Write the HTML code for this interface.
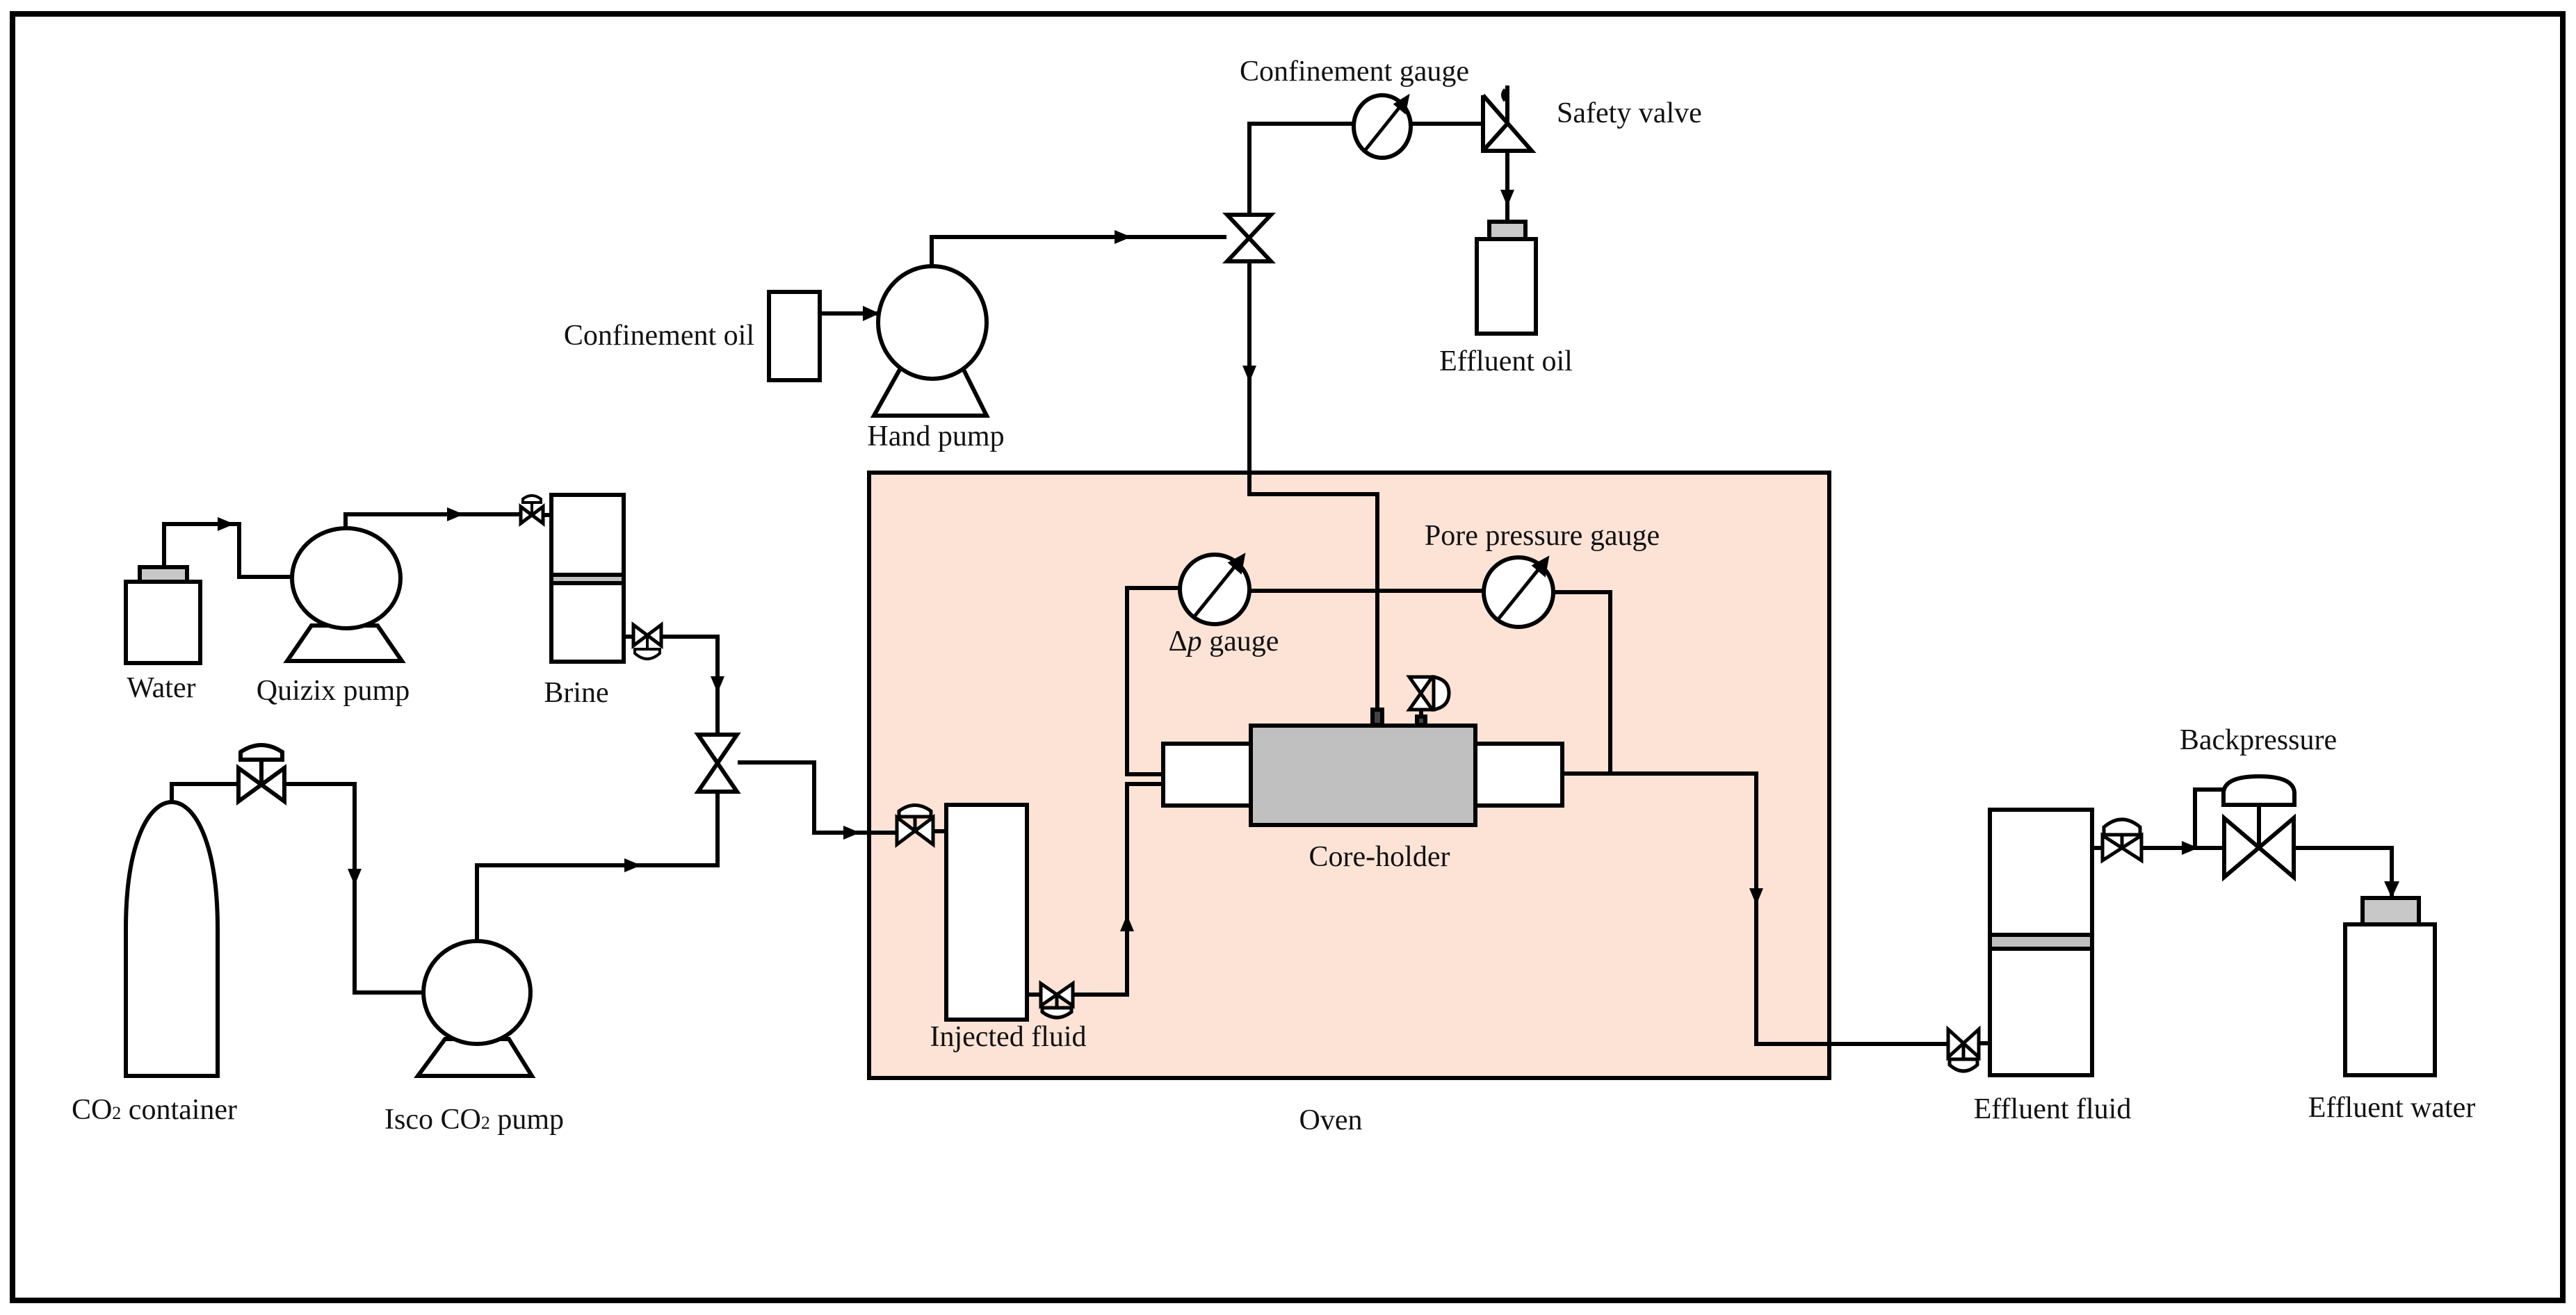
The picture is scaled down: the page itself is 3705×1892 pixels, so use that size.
<!DOCTYPE html>
<html><head><meta charset="utf-8"><style>
html,body{margin:0;padding:0;background:#fff;}
svg{display:block;}
text{font-family:"Liberation Serif",serif;font-size:42px;fill:#111;}
</style></head><body>
<svg width="3705" height="1892" viewBox="0 0 3705 1892" xmlns="http://www.w3.org/2000/svg">
<rect x="0" y="0" width="3705" height="1892" fill="#fff"/>
<rect x="18" y="20" width="3668" height="1851" fill="none" stroke="#000" stroke-width="8"/>
<!-- oven -->
<rect x="1250" y="680" width="1381" height="871" fill="#fde3d6" stroke="#000" stroke-width="6"/>

<g fill="none" stroke="#000" stroke-width="6" stroke-linejoin="miter">
<polyline points="236,816 236,754 344,754 344,830 420,830"/>
<polyline points="497,760 497,740 748,740"/>
<line x1="897" y1="916" x2="910" y2="916"/>
<polyline points="952,916 1032,916 1032,1056"/>
<polyline points="1061,1097 1171,1097 1171,1198 1289,1198"/>
<polyline points="1032,1140 1032,1245 686,1245 686,1354"/>
<polyline points="247,1154 247,1128 342,1128"/>
<polyline points="410,1128 510,1128 510,1428 609,1428"/>
<line x1="782" y1="741" x2="793" y2="741"/>
<line x1="1179" y1="451" x2="1263" y2="451"/>
<polyline points="1340,383 1340,341 1764,341"/>
<polyline points="1797,308 1797,178 1946,178"/>
<line x1="2030" y1="178" x2="2133" y2="178"/>
<line x1="2168" y1="217" x2="2168" y2="319"/>
<polyline points="1797,377 1797,711 1981,711 1981,1020"/>
<line x1="1343" y1="1196" x2="1361" y2="1196"/>
<line x1="1477" y1="1431" x2="1496" y2="1431"/>
<polyline points="1544,1431 1621,1431 1621,1128 1673,1128"/>
<polyline points="1697,846 1621,846 1621,1114 1673,1114"/>
<line x1="1797" y1="850" x2="2134" y2="850"/>
<polyline points="2234,852 2316,852 2316,1113"/>
<polyline points="2247,1113 2526,1113 2526,1502 2801,1502"/>
<line x1="2847" y1="1501" x2="2862" y2="1501"/>
<line x1="3009" y1="1220" x2="3023" y2="1220"/>
<line x1="3081" y1="1220" x2="3198" y2="1220"/>
<polyline points="3157,1220 3157,1136 3198,1136"/>
<polyline points="3300,1220 3440,1220 3440,1292"/>
<line x1="2044" y1="1022" x2="2044" y2="1044"/>
</g>

<g fill="#000">
<polygon points="313,744 313,764 337,754"/>
<polygon points="643,730 643,750 667,740"/>
<polygon points="1022,973 1042,973 1032,997"/>
<polygon points="898,1235 898,1255 922,1245"/>
<polygon points="500,1250 520,1250 510,1274"/>
<polygon points="1213,1188 1213,1208 1237,1198"/>
<polygon points="1241,440 1241,462 1265,451"/>
<polygon points="1603,331 1603,351 1627,341"/>
<polygon points="2158,273 2178,273 2168,297"/>
<polygon points="1787,526 1807,526 1797,550"/>
<polygon points="1611,1340 1631,1340 1621,1316"/>
<polygon points="2516,1278 2536,1278 2526,1302"/>
<polygon points="3138,1210 3138,1230 3162,1220"/>
<polygon points="3429,1268 3451,1268 3440,1292"/>
</g>

<g stroke="#000" stroke-width="6" fill="#fff">
<rect x="201" y="816" width="68" height="21" fill="#c8c8c8"/>
<rect x="181" y="837" width="107" height="117"/>
<polygon points="448,900 543,900 578,951 413,951"/>
<ellipse cx="498" cy="832" rx="78" ry="72"/>
<rect x="793" y="712" width="104" height="240"/>
<rect x="793" y="827" width="104" height="12" fill="#c0c0c0"/>
<path d="M181,1548 L181,1337 C181,1210 215,1154 247,1154 C279,1154 313,1210 313,1337 L313,1548 Z"/>
<polygon points="640,1495 732,1495 765,1548 601,1548"/>
<ellipse cx="686" cy="1428" rx="77" ry="74"/>
<rect x="1106" y="420" width="73" height="127"/>
<polygon points="1295,530 1385,530 1419,598 1257,598"/>
<ellipse cx="1341" cy="464" rx="78" ry="81"/>
<rect x="2142" y="319" width="52" height="25" fill="#c8c8c8"/>
<rect x="2124" y="344" width="85" height="136"/>
<rect x="1361" y="1158" width="116" height="309"/>
<rect x="1673" y="1070" width="126" height="89"/>
<rect x="2122" y="1070" width="125" height="89"/>
<rect x="1799" y="1044" width="323" height="143" fill="#c0c0c0"/>
<rect x="1974" y="1021" width="14" height="22" fill="#444"/>
<rect x="2038" y="1031" width="12" height="12" fill="#444"/>
<rect x="2862" y="1165" width="147" height="382"/>
<rect x="2862" y="1345" width="147" height="20" fill="#c0c0c0"/>
<rect x="3398" y="1292" width="81" height="38" fill="#c8c8c8"/>
<rect x="3373" y="1330" width="129" height="217"/>
</g>

<g stroke="#000" stroke-width="6" fill="#fff" stroke-linejoin="miter">
<polygon points="749,729 781,753 781,729 749,753" stroke-width="5"/>
<line x1="765" y1="741" x2="765" y2="723" stroke-width="4"/>
<path d="M752,723 L752,718 Q765,708 778,718 L778,723 Z" stroke-width="4"/>
<polygon points="911,899 951,929 951,899 911,929" stroke-width="5"/>
<line x1="931" y1="914" x2="931" y2="934" stroke-width="4"/>
<path d="M913,934 L949,934 L949,940 Q931,956 913,940 Z" stroke-width="4"/>
<polygon points="1004,1057 1060,1057 1004,1139 1060,1139"/>
<polygon points="343,1105 409,1153 409,1105 343,1153"/>
<line x1="376" y1="1129" x2="376" y2="1093"/>
<path d="M346,1093 L346,1082 Q376,1062 406,1082 L406,1093 Z"/>
<polygon points="1765,309 1828,309 1765,376 1828,376"/>
<ellipse cx="1988" cy="182" rx="41" ry="45"/>
<ellipse cx="1747" cy="848" rx="50" ry="50"/>
<ellipse cx="2184" cy="852" rx="50" ry="50"/>
<polygon points="1290,1176 1342,1215 1342,1176 1290,1215" stroke-width="5"/>
<line x1="1316" y1="1196" x2="1316" y2="1175" stroke-width="5"/>
<path d="M1293,1175 L1293,1167 Q1316,1150 1339,1167 L1339,1175 Z" stroke-width="5"/>
<polygon points="1497,1415 1543,1447 1543,1415 1497,1447" stroke-width="5"/>
<line x1="1520" y1="1431" x2="1520" y2="1450" stroke-width="5"/>
<path d="M1499,1450 L1541,1450 L1541,1456 Q1520,1472 1499,1456 Z" stroke-width="5"/>
<polygon points="2027,974 2060,974 2027,1021 2060,1021" stroke-width="5"/>
<path d="M2062,974 Q2084,978 2084,997 Q2084,1017 2062,1021 Z" stroke-width="5"/>
<polygon points="2802,1481 2846,1521 2846,1481 2802,1521" stroke-width="5"/>
<line x1="2824" y1="1501" x2="2824" y2="1524" stroke-width="5"/>
<path d="M2804,1524 L2844,1524 L2844,1532 Q2824,1550 2804,1532 Z" stroke-width="5"/>
<polygon points="3024,1202 3080,1238 3080,1202 3024,1238" stroke-width="5"/>
<line x1="3052" y1="1220" x2="3052" y2="1201" stroke-width="5"/>
<path d="M3026,1201 L3026,1190 Q3052,1168 3078,1190 L3078,1201 Z" stroke-width="5"/>
<polygon points="3199,1177 3299,1262 3299,1177 3199,1262"/>
<line x1="3249" y1="1220" x2="3249" y2="1158"/>
<path d="M3198,1158 L3198,1140 Q3200,1117 3249,1117 Q3298,1117 3300,1140 L3300,1158 Z"/>
</g>
<g stroke="#000" stroke-width="5" fill="#000">
<line x1="1962" y1="218" x2="2018" y2="148"/>
<polygon points="2024,140 2008,150 2020,160"/>
<line x1="1717" y1="888" x2="1780" y2="810"/>
<polygon points="1788,800 1770,810 1784,822"/>
<line x1="2154" y1="892" x2="2217" y2="814"/>
<polygon points="2225,804 2207,814 2221,826"/>
</g>
<g stroke="#000" stroke-width="6" fill="none">
<polyline points="2133,137 2133,217 2203,217 2133,137"/>
<line x1="2133" y1="217" x2="2168" y2="178"/>
<line x1="2168" y1="178" x2="2168" y2="123"/>
<path d="M2166,130 q-6,6 0,14" stroke-width="8"/>
</g>

<text x="232" y="1003" text-anchor="middle">Water</text>
<text x="479" y="1007" text-anchor="middle">Quizix pump</text>
<text x="829" y="1010" text-anchor="middle">Brine</text>
<text x="222" y="1610" text-anchor="middle">CO<tspan font-size="26">2</tspan> container</text>
<text x="682" y="1624" text-anchor="middle">Isco CO<tspan font-size="26">2</tspan> pump</text>
<text x="1948" y="116" text-anchor="middle">Confinement gauge</text>
<text x="2239" y="176">Safety valve</text>
<text x="1085" y="496" text-anchor="end">Confinement oil</text>
<text x="1346" y="641" text-anchor="middle">Hand pump</text>
<text x="2166" y="533" text-anchor="middle">Effluent oil</text>
<text x="2218" y="784" text-anchor="middle">Pore pressure gauge</text>
<text x="1760" y="936" text-anchor="middle">Δ<tspan font-style="italic">p</tspan> gauge</text>
<text x="1984" y="1246" text-anchor="middle">Core-holder</text>
<text x="1450" y="1505" text-anchor="middle">Injected fluid</text>
<text x="1914" y="1625" text-anchor="middle">Oven</text>
<text x="3248" y="1078" text-anchor="middle">Backpressure</text>
<text x="2952" y="1609" text-anchor="middle">Effluent fluid</text>
<text x="3440" y="1607" text-anchor="middle">Effluent water</text>
</svg>
</body></html>
